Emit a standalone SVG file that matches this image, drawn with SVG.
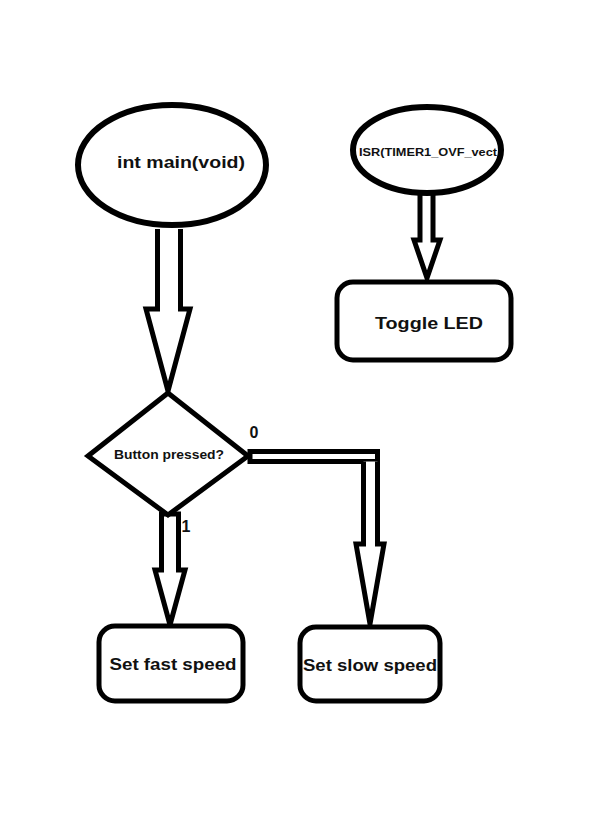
<svg xmlns="http://www.w3.org/2000/svg" width="611" height="816" viewBox="0 0 611 816">
<style>
.s{fill:#fff;stroke:#000;stroke-width:5;stroke-linejoin:miter}
.e{fill:#fff;stroke:#000;stroke-width:6}
.c{fill:#fff;stroke:#000;stroke-width:5;stroke-linejoin:miter;stroke-miterlimit:10}
.t{font-family:"Liberation Sans",Arial,sans-serif;font-weight:bold;fill:#111;text-anchor:middle;dominant-baseline:central}
</style>
<rect width="611" height="816" fill="#fff"/>
<g id="connectors">
<polyline class="c" points="157.5,229 157.5,309 146,309 168,391 190,309 180.5,309 180.5,229"/>
<polyline class="c" points="420,195 420,240 414,240 427,278 440,240 433,240 433,195"/>
<polygon class="c" points="161.5,514 178.5,514 178.5,570 185,570 170,625 155,570 161.5,570"/>
<rect class="c" x="250" y="451.5" width="127.5" height="10"/>
<polyline class="c" points="363.5,461.5 363.5,544 356,544 370,624 384,544 377.5,544 377.5,461.5"/>
<text class="t" x="254" y="432" font-size="16" font-weight="normal">0</text>
<text class="t" x="186" y="526" font-size="16" font-weight="normal">1</text>
</g>
<g id="main">
<ellipse class="e" cx="172" cy="165" rx="94" ry="60"/>
<text class="t" x="181" y="162" font-size="17" textLength="128" lengthAdjust="spacingAndGlyphs">int main(void)</text>
</g>
<g id="isr">
<ellipse class="e" cx="427" cy="150" rx="74" ry="43"/>
<text class="t" x="428" y="152" font-size="11" textLength="138" lengthAdjust="spacingAndGlyphs">ISR(TIMER1_OVF_vect</text>
</g>
<g id="toggle">
<rect class="s" x="337" y="282" width="174" height="78" rx="16"/>
<text class="t" x="429" y="323" font-size="17" textLength="108" lengthAdjust="spacingAndGlyphs">Toggle LED</text>
</g>
<g id="decision">
<polygon class="s" points="168,393 248,456 168,515 88,456"/>
<text class="t" x="169" y="455" font-size="12" textLength="110" lengthAdjust="spacingAndGlyphs">Button pressed?</text>
</g>
<g id="fast">
<rect class="s" x="99" y="626" width="144" height="75" rx="16"/>
<text class="t" x="173" y="664" font-size="17" textLength="127" lengthAdjust="spacingAndGlyphs">Set fast speed</text>
</g>
<g id="slow">
<rect class="s" x="300" y="627" width="140" height="74" rx="16"/>
<text class="t" x="370" y="665" font-size="17" textLength="134" lengthAdjust="spacingAndGlyphs">Set slow speed</text>
</g>
</svg>
